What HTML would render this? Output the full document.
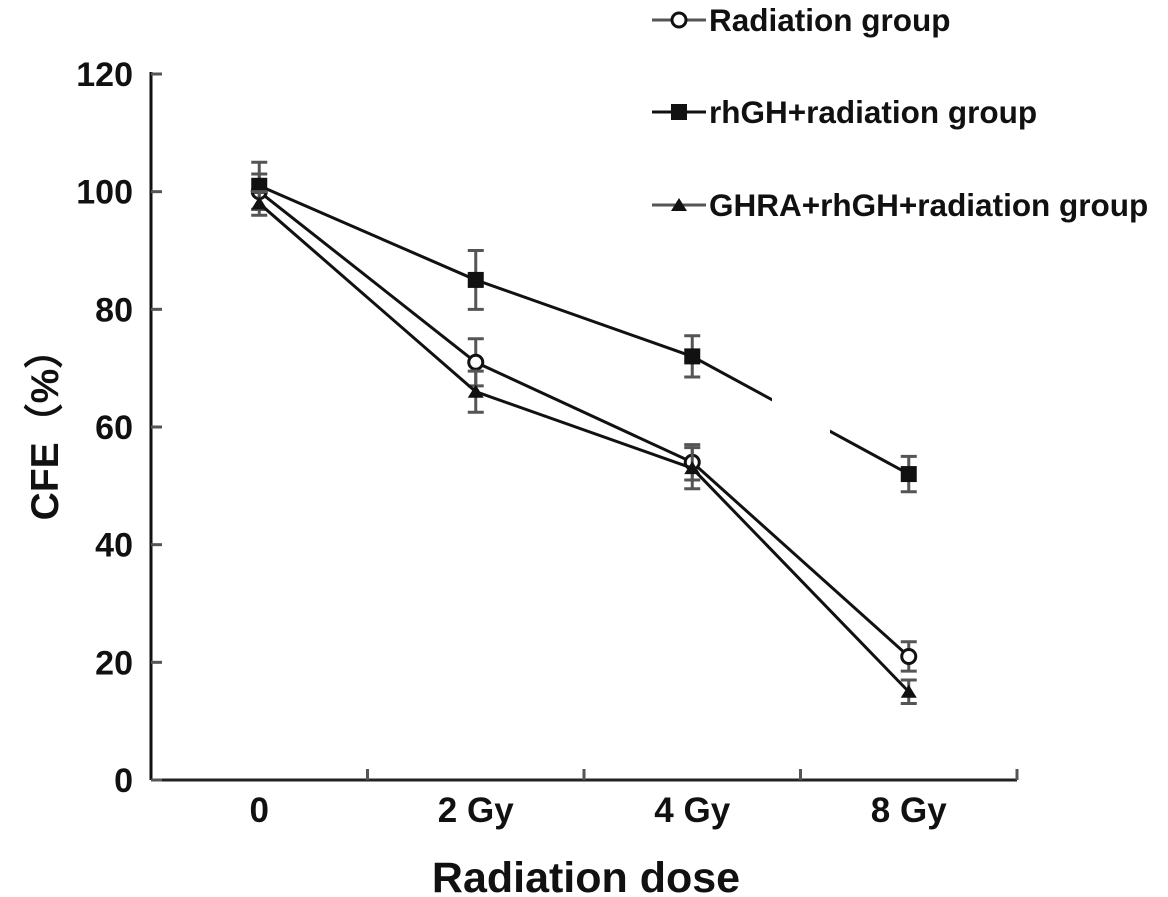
<!DOCTYPE html>
<html><head><meta charset="utf-8"><style>
body{margin:0;background:#fff}
svg{display:block;font-family:"Liberation Sans",Arial,sans-serif;font-weight:bold}
</style></head><body>
<svg id="chart" width="1168" height="897" viewBox="0 0 1168 897" xmlns="http://www.w3.org/2000/svg">
<g id="axes"></g><g id="series"></g><g id="legend"></g>
</svg>
<script>
const categories=["0","2 Gy","4 Gy","8 Gy"];
const yTicks=[0,20,40,60,80,100,120];
const radiation=[100,71,54,21];
const radiationErr=[3,4,3,2.5];
const rhgh=[101,85,72,52];
const rhghErr=[4,5,3.5,3];
const ghra=[98,66,53,15];
const ghraErr=[2,3.5,3.5,2];
const seriesNames=["Radiation group","rhGH+radiation group","GHRA+rhGH+radiation group"];

const NS="http://www.w3.org/2000/svg";
const X0=151,X1=1017,Y0=780,Y1=74;
const band=(X1-X0)/categories.length;
const xs=i=>X0+band*(i+0.5);
const ys=v=>Y0-(v/120)*(Y0-Y1);
function mk(tag,attrs,parent,text){const e=document.createElementNS(NS,tag);for(const k in attrs)e.setAttribute(k,attrs[k]);if(text!==undefined)e.textContent=text;parent.appendChild(e);return e;}
const axes=document.getElementById('axes'),ser=document.getElementById('series'),leg=document.getElementById('legend');

let yl=mk('line',{x1:X0,y1:Y1-2,x2:X0,y2:Y0,stroke:'#111','stroke-width':3},axes);

let xl=mk('line',{x1:X0,y1:Y0,x2:X1,y2:Y0,stroke:'#222','stroke-width':3},axes);

yTicks.forEach(t=>{
  const tk=mk('line',{x1:X0,y1:ys(t),x2:X0+11,y2:ys(t),stroke:'#555','stroke-width':3},axes);
  
  const lb=mk('text',{x:X0-18,y:ys(t)+12,'text-anchor':'end','font-size':34,fill:'#111'},axes,String(t));
  
});
categories.forEach((c,i)=>{
  if(i>0){const tk=mk('line',{x1:X0+band*i,y1:Y0,x2:X0+band*i,y2:Y0-11,stroke:'#555','stroke-width':3},axes);
  }
  const lb=mk('text',{x:xs(i),y:Y0+42,'text-anchor':'middle','font-size':35,fill:'#111'},axes,c);
  
});
{const tk=mk('line',{x1:X1,y1:Y0,x2:X1,y2:Y0-11,stroke:'#555','stroke-width':3},axes);
}
let yt=mk('text',{x:0,y:0,transform:'translate(58,425) rotate(-90)','text-anchor':'middle','font-size':39,fill:'#111'},axes,'CFE（%）');

let xt=mk('text',{x:586,y:892,'text-anchor':'middle','font-size':43,fill:'#111'},axes,'Radiation dose');


function marker(kind,x,y,parent){
  let m;
  if(kind==='circle')m=mk('circle',{cx:x,cy:y,r:7,fill:'#fff',stroke:'#111','stroke-width':3},parent);
  else if(kind==='square')m=mk('rect',{x:x-8,y:y-8,width:16,height:16,fill:'#111'},parent);
  else m=mk('polygon',{points:`${x},${y-7} ${x+8},${y+6} ${x-8},${y+6}`,fill:'#111'},parent);
  return m;
}
const defs=[[radiation,radiationErr,'circle','radiation'],[rhgh,rhghErr,'square','rhgh'],[ghra,ghraErr,'triangle','ghra']];
defs.forEach(([vals,errs,kind,nm])=>{
  const g=mk('g',{},ser);
  
  const pts=vals.map((v,i)=>xs(i)+','+ys(v)).join(' ');
  const pl=mk('polyline',{points:pts,fill:'none',stroke:'#111','stroke-width':3},g);
  
  vals.forEach((v,i)=>{
    const x=xs(i),hi=ys(v+errs[i]),lo=ys(v-errs[i]);
    const e=mk('path',{d:`M${x},${hi}V${lo}M${x-8},${hi}H${x+8}M${x-8},${lo}H${x+8}`,stroke:'#555','stroke-width':3,fill:'none'},g);
    
  });
  vals.forEach((v,i)=>{
    const m=marker(kind,xs(i),ys(v),g);
    
  });
});
const gap=mk('rect',{x:772,y:385,width:58,height:50,fill:'#fff'},ser);


const kinds=['circle','square','triangle'];const ly=[20,112,205];
seriesNames.forEach((n,i)=>{
  const g=mk('g',{},leg);
  
  mk('line',{x1:652,y1:ly[i],x2:706,y2:ly[i],stroke:i===1?'#111':'#555','stroke-width':3},g);
  marker(kinds[i],679,ly[i],g);
  mk('text',{x:709,y:ly[i]+11,'font-size':31.5,fill:'#111'},g,n);
});
</script>
</body></html>
